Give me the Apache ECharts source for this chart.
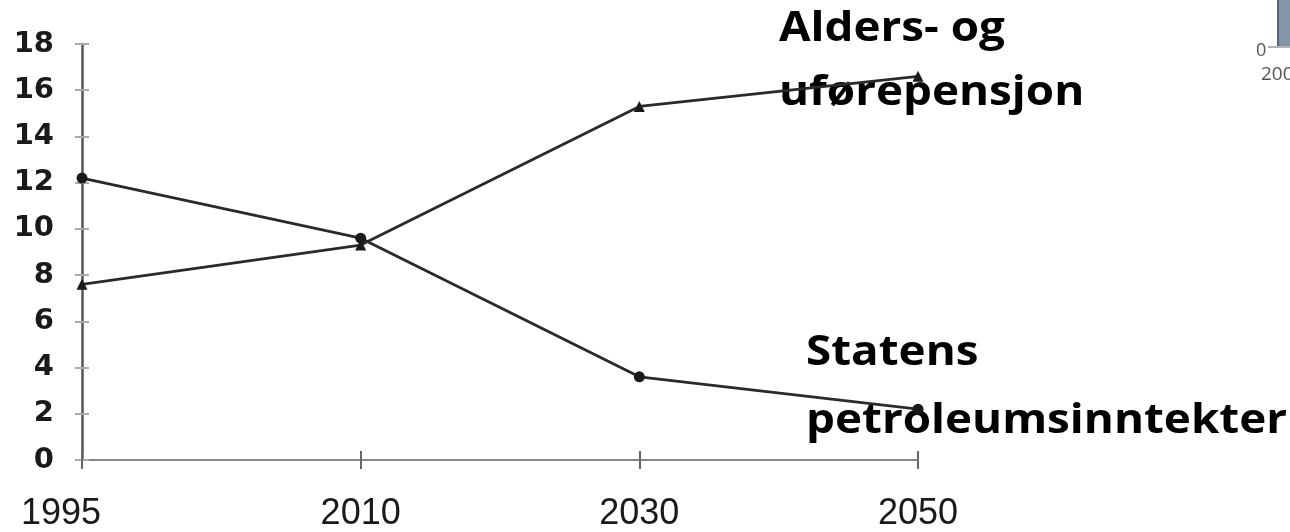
<!DOCTYPE html>
<html><head><meta charset="utf-8">
<script src="https://cdn.jsdelivr.net/npm/echarts@6/dist/echarts.min.js"></script>
<style>html,body{margin:0;padding:0;background:#fff}#c{width:1290px;height:532px}</style>
</head><body><div id="c"></div>
<script>
const years = ['1995', '2010', '2030', '2050'];
const petroleum = [12.2, 9.6, 3.6, 2.2];
const pension = [7.6, 9.3, 15.3, 16.6];
const yTicks = [0, 2, 4, 6, 8, 10, 12, 14, 16, 18];
const labelPension = ['Alders- og', 'uførepensjon'];
const labelPetroleum = ['Statens', 'petroleumsinntekter'];

const chart = echarts.init(document.getElementById('c'));
function anno(text, x, y) {
  return {type: 'text', x: x, y: y, scaleX: 1.09,
    style: {text: text, x: 0, y: 0, fontFamily: 'Open Sans', fontWeight: 'bold', fontSize: 42, fill: '#000', verticalAlign: 'top'}};
}
const yMin = yTicks[0], yMax = yTicks[yTicks.length - 1];
chart.setOption({
  animation: false,
  backgroundColor: '#fff',
  grid: {left: 82, right: 372, top: 44, bottom: 70, containLabel: false},
  xAxis: [{
    type: 'category', data: years, boundaryGap: false,
    axisLine: {lineStyle: {color: '#888', width: 2}},
    axisTick: {show: true, alignWithLabel: true, length: 9, lineStyle: {color: '#666', width: 2}},
    axisLabel: {color: '#1a1a1a', fontFamily: 'Liberation Sans', fontSize: 36, margin: 36,
      formatter: function (v, i) { return i === 0 ? '{f|' + v + '}' : v; },
      rich: {f: {fontFamily: 'Liberation Sans', fontSize: 36, color: '#1a1a1a', padding: [0, 42, 0, 0]}}}
  }, {
    type: 'category', data: years, boundaryGap: false, position: 'bottom',
    axisLine: {show: false}, axisLabel: {show: false},
    axisTick: {show: true, inside: true, length: 9, lineStyle: {color: '#666', width: 2}}
  }],
  yAxis: [{
    type: 'value', min: yMin, max: yMax, interval: 2,
    axisLine: {show: true, lineStyle: {color: '#555', width: 2.5}},
    axisTick: {show: true, length: 7, lineStyle: {color: '#aaa', width: 2}},
    splitLine: {show: false},
    axisLabel: {color: '#1a1a1a', fontFamily: 'DejaVu Sans', fontWeight: 'bold', fontSize: 29, margin: 28}
  }, {
    type: 'value', min: yMin, max: yMax, interval: 2, position: 'left',
    axisLine: {show: false}, axisLabel: {show: false}, splitLine: {show: false},
    axisTick: {show: true, inside: true, length: 7, lineStyle: {color: '#aaa', width: 2}}
  }],
  series: [
    {type: 'line', name: labelPetroleum.join(' '), data: petroleum, symbol: 'circle', symbolSize: 11,
     lineStyle: {color: '#2a2a2a', width: 2.8}, itemStyle: {color: '#1a1a1a'}},
    {type: 'line', name: labelPension.join(' '), data: pension, symbol: 'triangle', symbolSize: 11,
     lineStyle: {color: '#2a2a2a', width: 2.8}, itemStyle: {color: '#1a1a1a'}}
  ],
  graphic: [
    anno(labelPension[0], 779, 8),
    anno(labelPension[1], 779, 72),
    anno(labelPetroleum[0], 806, 332),
    anno(labelPetroleum[1], 806, 400),
    {type: 'rect', shape: {x: 1277, y: 0, width: 13, height: 46}, style: {fill: '#8595a8'}},
    {type: 'rect', shape: {x: 1277, y: 0, width: 2, height: 46}, style: {fill: '#556577'}},
    {type: 'line', shape: {x1: 1268, y1: 47, x2: 1290, y2: 47}, style: {stroke: '#666', lineWidth: 1}},
    {type: 'text', x: 1256, y: 42, style: {text: '0', x: 0, y: 0, verticalAlign: 'top', fontFamily: 'Open Sans', fontSize: 18, fill: '#555'}},
    {type: 'text', x: 1261, y: 65, style: {text: '200', x: 0, y: 0, verticalAlign: 'top', fontFamily: 'Open Sans', fontSize: 19, fill: '#555'}}
  ]
});
</script></body></html>
